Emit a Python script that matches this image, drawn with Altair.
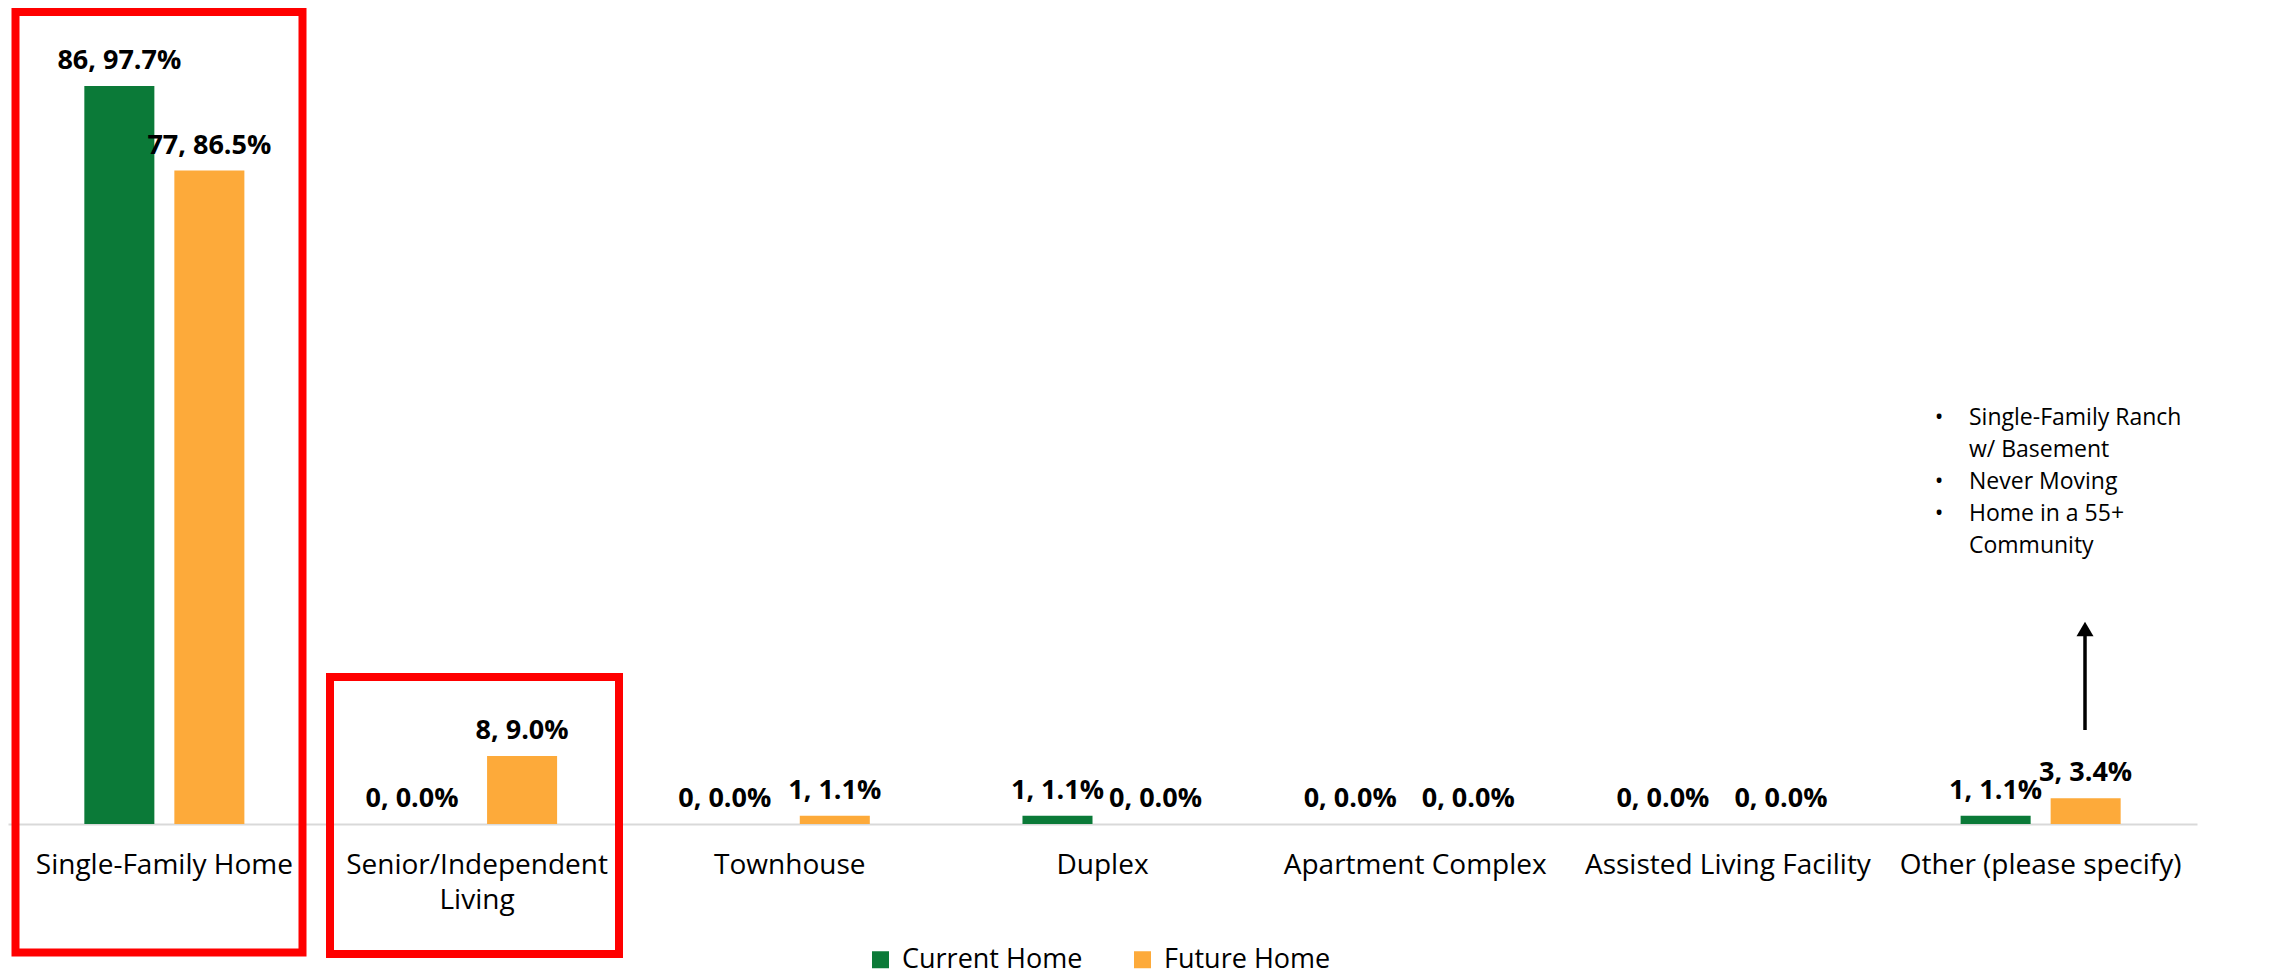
import altair as alt
import pandas as pd

categories = ["Single-Family Home", "Senior/Independent Living", "Townhouse", "Duplex",
              "Apartment Complex", "Assisted Living Facility", "Other (please specify)"]
series = ["Current Home", "Future Home"]
current_counts = [86, 0, 0, 1, 0, 0, 1]
current_pct = [97.7, 0.0, 0.0, 1.1, 0.0, 0.0, 1.1]
future_counts = [77, 8, 1, 0, 0, 0, 3]
future_pct = [86.5, 9.0, 1.1, 0.0, 0.0, 0.0, 3.4]
colors = ["#0B7A38", "#FDAA3A"]
note_items = [["Single-Family Ranch", "w/ Basement"], ["Never Moving"], ["Home in a 55+", "Community"]]

rows = []
for i, cat in enumerate(categories):
    rows.append(dict(cat=cat, series=series[0], count=current_counts[i], pct=current_pct[i]))
    rows.append(dict(cat=cat, series=series[1], count=future_counts[i], pct=future_pct[i]))
df = pd.DataFrame(rows)
df["label"] = df["count"].astype(str) + ", " + df["pct"].map(lambda v: f"{v:.1f}%")

FONT = "Open Sans"
W, H = 2189, 812

x_enc = alt.X(
    "cat:N", sort=categories,
    scale=alt.Scale(paddingInner=0, paddingOuter=0),
    axis=alt.Axis(
        title=None, labelAngle=0, labelFont=FONT, labelFontSize=28, labelColor="#000000",
        labelPadding=27, labelLineHeight=35, labelOverlap=False, labelLimit=400,
        ticks=False, domainColor="#D9D9D9", domainWidth=2, grid=False,
        labelExpr="datum.label == 'Senior/Independent Living' ? ['Senior/Independent', 'Living'] : datum.label",
    ),
)
xo_enc = alt.XOffset("series:N", sort=series,
                     scale=alt.Scale(paddingInner=0.222, paddingOuter=0.848))
y_enc = alt.Y("pct:Q", scale=alt.Scale(domain=[0, 107.5], nice=False), axis=None)
color_enc = alt.Color(
    "series:N", sort=series, scale=alt.Scale(domain=series, range=colors),
    legend=alt.Legend(
        title=None, orient="none", legendX=859, legendY=934, direction="horizontal",
        symbolType="square", symbolSize=289, symbolStrokeWidth=0,
        labelFont=FONT, labelFontSize=27, labelColor="#000000", labelOffset=8,
        columnPadding=46, padding=0, labelLimit=400,
    ),
)

base = alt.Chart(df)
bars = base.mark_bar().encode(x=x_enc, xOffset=xo_enc, y=y_enc, color=color_enc)

lbl = dict(font=FONT, fontSize=27, fontWeight="bold", color="#000000", baseline="alphabetic", dy=-17)
lab_nz = base.mark_text(**lbl).encode(
    x=x_enc, xOffset=xo_enc, y=y_enc, text="label:N").transform_filter("datum.count > 0")
lab_zc = base.mark_text(dx=-20, **lbl).encode(
    x=x_enc, xOffset=xo_enc, y=y_enc, text="label:N"
).transform_filter("datum.count == 0 && datum.series == 'Current Home'")
lab_zf = base.mark_text(dx=8, **lbl).encode(
    x=x_enc, xOffset=xo_enc, y=y_enc, text="label:N"
).transform_filter("datum.count == 0 && datum.series == 'Future Home'")

one = alt.Chart(pd.DataFrame({"k": [0]}))
box1 = one.mark_rect(fillOpacity=0, stroke="#FF0000", strokeWidth=8).encode(
    x=alt.value(7.5), x2=alt.value(294.5), y=alt.value(0), y2=alt.value(940.5))
box2 = one.mark_rect(fillOpacity=0, stroke="#FF0000", strokeWidth=8).encode(
    x=alt.value(322), x2=alt.value(611), y=alt.value(665), y2=alt.value(942))

arrow = one.mark_rule(color="#000000", strokeWidth=3.5).encode(
    x=alt.value(2077), y=alt.value(718), y2=alt.value(621))
head = one.mark_point(shape="triangle-up", filled=True, size=289, color="#000000",
                      opacity=1, strokeWidth=0).encode(x=alt.value(2077), y=alt.value(617))

# bulleted note: every line is its own text mark
LINE_H = 32
NOTE_FS = 23
note_layers = []
line_idx = 0
for item in note_items:
    note_layers.append(
        one.mark_text(text="•", align="center", baseline="alphabetic", font=FONT,
                      fontSize=NOTE_FS, color="#000000").encode(
            x=alt.value(1931), y=alt.value(413 + line_idx * LINE_H)))
    for line in item:
        note_layers.append(
            one.mark_text(text=line, align="left", baseline="alphabetic",
                          font=FONT, fontSize=NOTE_FS, color="#000000").encode(
                x=alt.value(1961), y=alt.value(413 + line_idx * LINE_H)))
        line_idx += 1

chart = alt.layer(box1, box2, bars, lab_nz, lab_zc, lab_zf, arrow, head, *note_layers).properties(
    width=W, height=H,
    padding={"left": 0, "top": 4, "right": 70, "bottom": 155},
    autosize=alt.AutoSizeParams(type="none"),
).configure_view(strokeWidth=0)

chart.save("out.html", embed_options={"renderer": "svg", "actions": False})
